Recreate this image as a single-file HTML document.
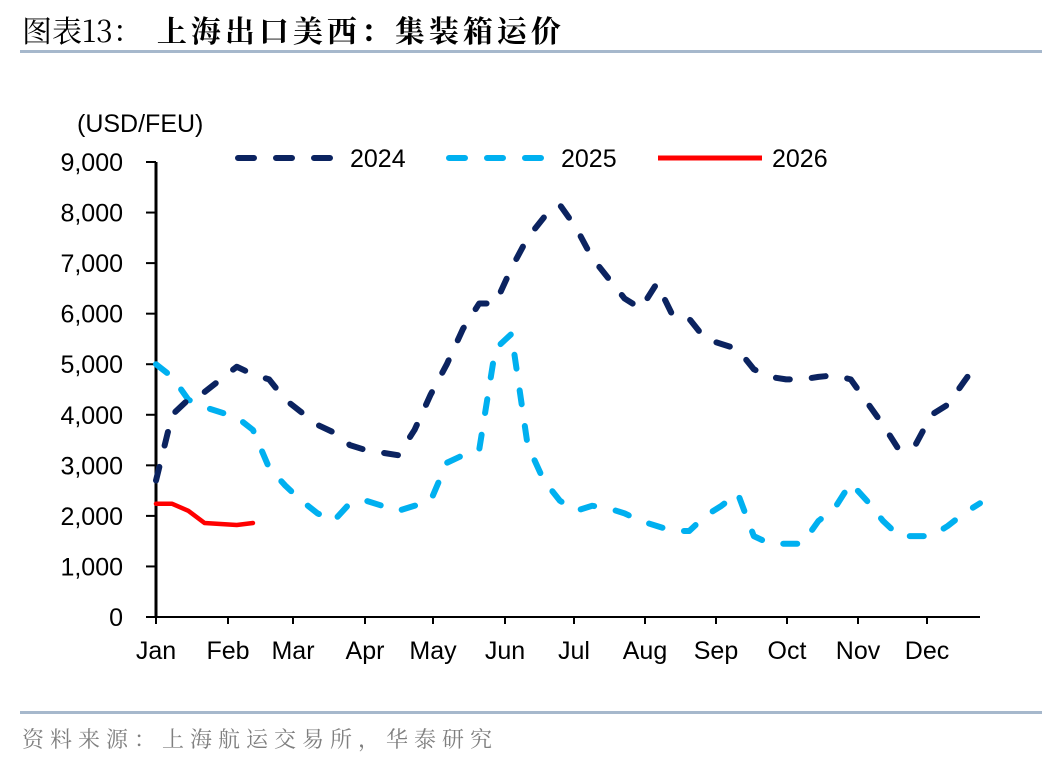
<!DOCTYPE html>
<html><head><meta charset="utf-8"><style>
body{margin:0;background:#fff;width:1048px;height:764px;overflow:hidden;font-family:"Liberation Sans","Noto Sans CJK SC",sans-serif}
</style></head><body>
<svg id="chart" width="1048" height="764" xmlns="http://www.w3.org/2000/svg" font-family="Liberation Sans, Noto Sans CJK SC, sans-serif">
<text x="22" y="42" font-size="30" font-family="Noto Serif CJK SC, serif" fill="#000">图表13：<tspan font-weight="bold" dx="14" letter-spacing="4">上海出口美西：集装箱运价</tspan></text>
<rect x="20" y="50" width="1022" height="3" fill="#a6b8cc"/>
<text x="77" y="132" font-size="25">(USD/FEU)</text>
<g id="axes"></g>
<g id="series"></g>
<g>
<line x1="238" y1="158" x2="338" y2="158" stroke="#0b2360" stroke-width="6" stroke-linecap="round" stroke-dasharray="16,22"/>
<text x="350" y="167" font-size="25">2024</text>
<line x1="449" y1="158" x2="549" y2="158" stroke="#00b0f0" stroke-width="6" stroke-linecap="round" stroke-dasharray="16,22"/>
<text x="561" y="167" font-size="25">2025</text>
<line x1="658" y1="158" x2="762" y2="158" stroke="#ff0000" stroke-width="5"/>
<text x="772" y="167" font-size="25">2026</text>
</g>
<rect x="20" y="711" width="1022" height="3" fill="#a6b8cc"/>
<text x="22" y="747" font-size="22" font-family="Noto Serif CJK SC, serif" fill="#7f7f7f" letter-spacing="6">资料来源：上海航运交易所，华泰研究</text>
</svg>
<script>
const months=["Jan","Feb","Mar","Apr","May","Jun","Jul","Aug","Sep","Oct","Nov","Dec"];
const monthPos=[156,228,293,365,433,505,574,645,716,787,858,927];
const yTicks=[0,1000,2000,3000,4000,5000,6000,7000,8000,9000];
const yTickLabels=["0","1,000","2,000","3,000","4,000","5,000","6,000","7,000","8,000","9,000"];
const s2024=[2700,4000,4300,4450,4700,4950,4800,4700,4300,4050,3800,3650,3400,3300,3250,3200,3700,4400,5000,5700,6200,6200,6900,7500,7900,8150,7700,7100,6700,6300,6100,6600,5950,5900,5500,5400,5300,4900,4750,4700,4700,4750,4780,4700,4250,3800,3300,3400,4000,4200,4650,5100];
const s2025=[5000,4750,4300,4150,4050,3950,3700,2950,2600,2300,2050,1900,2250,2300,2200,2100,2200,2300,3050,3200,3300,5300,5600,3400,2700,2300,2100,2200,2150,2050,1900,1800,1700,1700,2000,2200,2450,1600,1450,1450,1450,1900,2150,2650,2300,1900,1600,1600,1600,1800,2050,2250];
const s2026=[2240,2240,2100,1860,1840,1820,1860];
const NS="http://www.w3.org/2000/svg";
const X0=156,X1=980,Y0=617,Y1=162,YMAX=9000,NW=51;
const xs=i=>X0+i*(X1-X0)/NW;
const ys=v=>Y0-v/YMAX*(Y0-Y1);
function mk(tag,attrs,parent){const e=document.createElementNS(NS,tag);for(const k in attrs)e.setAttribute(k,attrs[k]);parent.appendChild(e);return e;}
const ax=document.getElementById('axes');
let a=mk('line',{x1:X0,y1:Y1,x2:X0,y2:Y0,stroke:'#000','stroke-width':3},ax);


a=mk('line',{x1:X0,y1:Y0,x2:X1,y2:Y0,stroke:'#000','stroke-width':2},ax);


yTicks.forEach((v,i)=>{
 const t=mk('line',{x1:X0-10,y1:ys(v),x2:X0,y2:ys(v),stroke:'#000','stroke-width':2},ax);
 
 
 const l=mk('text',{x:123,y:ys(v)+9,'font-size':25,'text-anchor':'end'},ax);
 l.textContent=yTickLabels[i];
 
 
});
months.forEach((m,i)=>{
 const t=mk('line',{x1:monthPos[i],y1:Y0,x2:monthPos[i],y2:Y0+7,stroke:'#000','stroke-width':2},ax);
 
 
 const l=mk('text',{x:monthPos[i],y:659,'font-size':25,'text-anchor':'middle'},ax);
 l.textContent=m;
 
 
});
const sg=document.getElementById('series');
function line(arr,color,dash,name,w){
 const p=mk('polyline',{points:arr.map((v,i)=>xs(i)+','+ys(v)).join(' '),fill:'none',stroke:color,'stroke-width':w,'stroke-linecap':'round','stroke-linejoin':'round'},sg);
 if(dash)p.setAttribute('stroke-dasharray',dash);
 
 
}
line(s2025,'#00b0f0','14,22','series-2025',6);
line(s2024,'#0b2360','14,22','series-2024',6);
line(s2026,'#ff0000',null,'series-2026',4.5);
</script>
</body></html>
